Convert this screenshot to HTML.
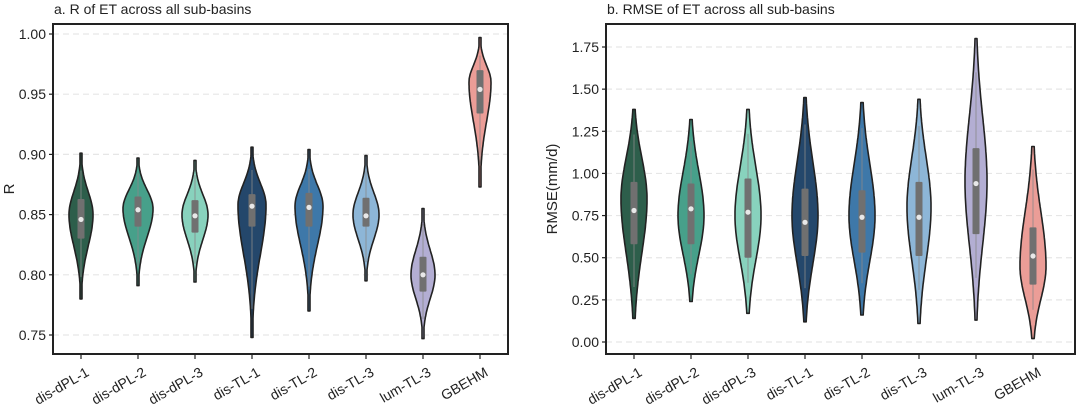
<!DOCTYPE html>
<html><head><meta charset="utf-8">
<style>
html,body{margin:0;padding:0;background:#fff;}
svg{display:block;font-family:"Liberation Sans",Arial,sans-serif;}
</style></head>
<body>
<svg id="chart" width="1080" height="405" viewBox="0 0 1080 405"></svg>
<script>
const categories = ["dis-dPL-1","dis-dPL-2","dis-dPL-3","dis-TL-1","dis-TL-2","dis-TL-3","lum-TL-3","GBEHM"];
const colors = ["#2d5e4b","#47a08a","#88d2bd","#24476b","#3e78a9","#8db6d7","#b3aed3","#eb9d97"];
// Panel a: R
const rMin = [0.780,0.791,0.794,0.748,0.770,0.795,0.747,0.873];
const rMax = [0.901,0.897,0.895,0.906,0.904,0.899,0.855,0.997];
const rPeak = [0.850,0.855,0.850,0.858,0.857,0.850,0.800,0.960];
const rQ1 = [0.830,0.840,0.835,0.840,0.840,0.840,0.786,0.934];
const rMed = [0.846,0.854,0.849,0.857,0.856,0.849,0.800,0.954];
const rQ3 = [0.863,0.865,0.862,0.867,0.868,0.864,0.815,0.970];
const rTicks = [0.75,0.80,0.85,0.90,0.95,1.00];
// Panel b: RMSE
const eMin = [0.14,0.24,0.17,0.12,0.16,0.11,0.13,0.02];
const eMax = [1.38,1.32,1.38,1.45,1.42,1.44,1.80,1.16];
const ePeak = [0.85,0.75,0.75,0.75,0.75,0.80,0.95,0.45];
const eQ1 = [0.58,0.58,0.50,0.51,0.53,0.51,0.64,0.34];
const eMed = [0.78,0.79,0.77,0.71,0.74,0.74,0.94,0.51];
const eQ3 = [0.95,0.94,0.97,0.91,0.90,0.95,1.15,0.68];
const eTicks = [0.00,0.25,0.50,0.75,1.00,1.25,1.50,1.75];

const NS="http://www.w3.org/2000/svg";
const svg=document.getElementById('chart');
function mk(tag,attrs,parent){const e=document.createElementNS(NS,tag);for(const k in attrs)e.setAttribute(k,attrs[k]);(parent||svg).appendChild(e);return e;}

function panel(cfg){
  const g=mk('g',{});
  
  
  const y=v=>cfg.y0+(v-cfg.v0)*(cfg.y1-cfg.y0)/(cfg.v1-cfg.v0);
  const x=i=>cfg.xFirst+i*cfg.xStep;
  cfg.ticks.forEach(t=>{
    const l=mk('line',{x1:cfg.left,x2:cfg.right,y1:y(t),y2:y(t),stroke:"#e6e6e6","stroke-width":1.2,"stroke-dasharray":"6,4"},g);
    
    
    const tk=mk('line',{x1:cfg.left-4,x2:cfg.left,y1:y(t),y2:y(t),stroke:"#222","stroke-width":1.2},g);
    
    
    const tx=mk('text',{x:cfg.left-7,y:y(t)+5,"text-anchor":"end","font-size":14,fill:"#222"},g);
    tx.textContent=t.toFixed(2);
    
    
  });
  categories.forEach((c,i)=>{
    const cx=x(i),mn=cfg.mins[i],mx=cfg.maxs[i],pk=cfg.peaks[i],W=cfg.W[i];
    const sLo=(pk-mn)/cfg.div, sHi=(mx-pk)/cfg.div;
    const pts=[];const N=80;
    for(let k=0;k<=N;k++){
      const v=mn+(mx-mn)*k/N;
      const d=v-pk; const s=d<0?sLo:sHi;
      let w=W*Math.exp(-0.5*(d/s)*(d/s));
      if(!isFinite(w))w=0;
      pts.push([v,Math.max(w,1)]);
    }
    let d="";
    pts.forEach((p,k)=>{d+=(k?"L":"M")+(cx+p[1]).toFixed(1)+","+y(p[0]).toFixed(1);});
    for(let k=pts.length-1;k>=0;k--){d+="L"+(cx-pts[k][1]).toFixed(1)+","+y(pts[k][0]).toFixed(1);}
    d+="Z";
    const vp=mk('path',{d:d,fill:colors[i],stroke:"#222","stroke-width":1.6,"stroke-linejoin":"round"},g);
    
    
    const wh=mk('line',{x1:cx,x2:cx,y1:y(mn+(mx-mn)*0.15),y2:y(mx-(mx-mn)*0.12),stroke:"#888","stroke-width":1,"stroke-opacity":0.8},g);
    
    
    const bx=mk('rect',{x:cx-3.5,y:y(cfg.q3[i]),width:7,height:y(cfg.q1[i])-y(cfg.q3[i]),fill:"#707070",rx:1},g);
    
    
    const md=mk('circle',{cx:cx,cy:y(cfg.med[i]),r:2.6,fill:"#e8e8e8"},g);
    
    
    const tk=mk('line',{x1:cx,x2:cx,y1:cfg.bottom,y2:cfg.bottom+5,stroke:"#222","stroke-width":1.2},g);
    
    
    const lb=mk('text',{x:0,y:0,"text-anchor":"end","font-size":14,fill:"#222",transform:`translate(${cx+9},${cfg.bottom+21}) rotate(-30)`},g);
    lb.textContent=c;
    
    
  });
  const fr=mk('rect',{x:cfg.left,y:cfg.top,width:cfg.right-cfg.left,height:cfg.bottom-cfg.top,fill:"none",stroke:"#222","stroke-width":2},g);
  
  
  const ti=mk('text',{x:cfg.left+1,y:14,"font-size":14,fill:"#222"},g);
  ti.textContent=cfg.title;
  
  
  const yl=mk('text',{x:0,y:0,"text-anchor":"middle","font-size":15,fill:"#222",transform:`translate(${cfg.ylx},${(cfg.top+cfg.bottom)/2}) rotate(-90)`},g);
  yl.textContent=cfg.ylabel;
  
  
}
panel({name:'panel-a-r',left:53,right:508,top:24,bottom:354,v0:0.75,y0:335,v1:1.00,y1:34,div:2.7,
  xFirst:81,xStep:57,ticks:rTicks,mins:rMin,maxs:rMax,peaks:rPeak,q1:rQ1,med:rMed,q3:rQ3,
  W:[12,15,13,14,14,13,12,11],title:"a. R of ET across all sub-basins",ylabel:"R",ylx:14});
panel({name:'panel-b-rmse',left:606,right:1075,top:24,bottom:354,v0:0,y0:342,v1:1.75,y1:47,div:2.2,
  xFirst:634,xStep:57,ticks:eTicks,mins:eMin,maxs:eMax,peaks:ePeak,q1:eQ1,med:eMed,q3:eQ3,
  W:[13,13,13,13,13,12,11,13],title:"b. RMSE of ET across all sub-basins",ylabel:"RMSE(mm/d)",ylx:557});
</script>
</body></html>
